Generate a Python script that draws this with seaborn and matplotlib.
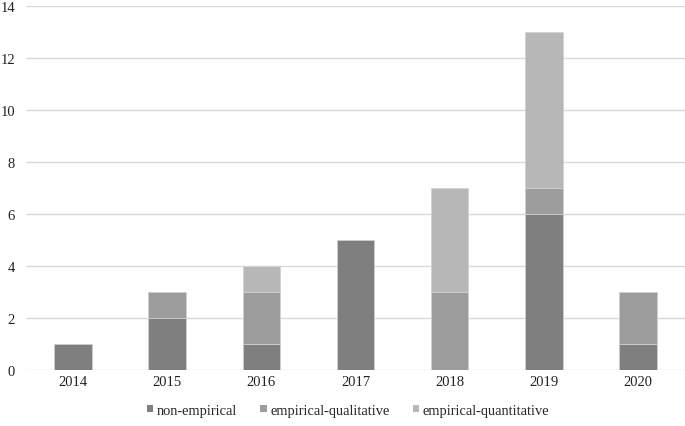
import pandas as pd
import numpy as np
import matplotlib
matplotlib.use("Agg")
import matplotlib.pyplot as plt
import seaborn as sns
from matplotlib.patches import Patch

years = ["2014", "2015", "2016", "2017", "2018", "2019", "2020"]
non_empirical = [1, 2, 1, 5, 0, 6, 1]
empirical_qualitative = [0, 1, 2, 0, 3, 1, 2]
empirical_quantitative = [0, 0, 1, 0, 4, 6, 0]

series_names = ["non-empirical", "empirical-qualitative", "empirical-quantitative"]
colors = ["#7f7f7f", "#9d9d9d", "#b7b7b7"]

sns.set_theme(style="white")
plt.rcParams['font.family'] = ['Liberation Serif', 'DejaVu Serif']

fig = plt.figure(figsize=(6.85, 4.27), dpi=100)
ax = fig.add_axes([0.038, 0.131, 0.962, 0.853])

# cumulative tops, drawn back to front so lower layers cover upper ones
c1 = np.array(non_empirical)
c2 = c1 + np.array(empirical_qualitative)
c3 = c2 + np.array(empirical_quantitative)
layers = [c3, c2, c1]
layer_colors = [colors[2], colors[1], colors[0]]

for vals, col in zip(layers, layer_colors):
    df = pd.DataFrame({"year": years, "count": vals})
    sns.barplot(data=df, x="year", y="count", color=col, width=0.4,
                edgecolor="#d4d4d4", linewidth=0.6, saturation=1, ax=ax, zorder=3)

ax.set_ylim(0, 14)
ax.set_yticks(range(0, 15, 2))
ax.set_xlim(-0.5, 6.5)
ax.yaxis.grid(True, color="#d9d9d9", linewidth=1.0, zorder=0)
ax.set_axisbelow(True)
ax.set_xlabel("")
ax.set_ylabel("")
ax.tick_params(axis="both", length=0, labelsize=10.5, colors="#222222")
ax.tick_params(axis="y", pad=8)
sns.despine(ax=ax, left=True, bottom=True, top=True, right=True)

handles = [Patch(facecolor=c, edgecolor="none", label=n) for c, n in zip(colors, series_names)]
fig.legend(handles=handles, loc="center", bbox_to_anchor=(0.508, 0.037), ncol=3,
           frameon=False, fontsize=10.4, handlelength=0.45, handleheight=0.45,
           handletextpad=0.25, columnspacing=1.6)

fig.savefig("out.png", dpi=100)
